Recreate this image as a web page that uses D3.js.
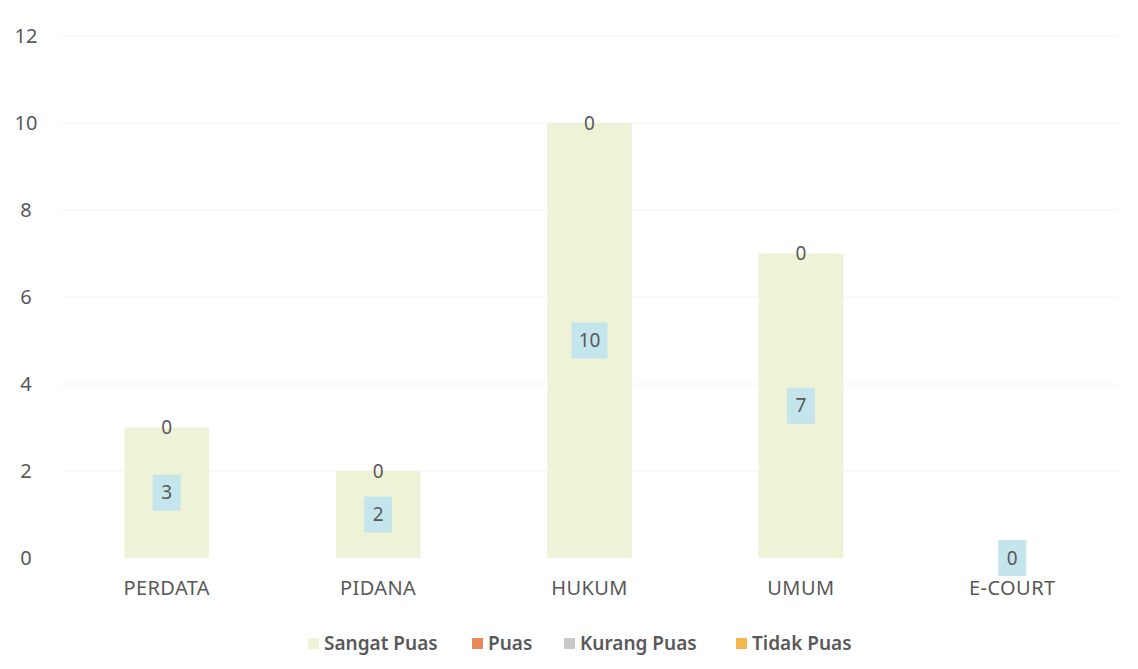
<!DOCTYPE html>
<html>
<head>
<meta charset="utf-8">
<script src="https://cdn.jsdelivr.net/npm/d3@7"></script>
<style>
  body { margin: 0; background: #fff; }
  text { font-family: "Noto Sans", "Open Sans", sans-serif; fill: #595959; }
</style>
</head>
<body>
<svg id="chart" width="1138" height="669"></svg>
<script>
var categories = ['PERDATA', 'PIDANA', 'HUKUM', 'UMUM', 'E-COURT'];
var seriesNames = ['Sangat Puas', 'Puas', 'Kurang Puas', 'Tidak Puas'];
var sangatPuas = [3, 2, 10, 7, 0];
var puas = [0, 0, 0, 0, 0];
var kurangPuas = [0, 0, 0, 0, 0];
var tidakPuas = [0, 0, 0, 0, 0];
var yTicks = [0, 2, 4, 6, 8, 10, 12];
var colors = ['#eef2d6', '#e9895a', '#c9c9c9', '#f6b84c'];

var svg = d3.select('#chart');
var margin = {left: 61, right: 20, top: 36, bottom: 111};
var width = 1138 - margin.left - margin.right;
var height = 669 - margin.top - margin.bottom;

var rows = categories.map(function (c, i) {
    return {cat: c, 'Sangat Puas': sangatPuas[i], 'Puas': puas[i],
            'Kurang Puas': kurangPuas[i], 'Tidak Puas': tidakPuas[i]};
});
var stacked = d3.stack().keys(seriesNames)(rows);

var x = d3.scaleBand().domain(categories).range([margin.left, margin.left + width]).paddingInner(0.6).paddingOuter(0.3);
var y = d3.scaleLinear().domain([0, 12]).range([margin.top + height, margin.top]);

// faint gridlines
svg.append('g').selectAll('line').data(yTicks.slice(1)).enter().append('line')
    .attr('x1', margin.left).attr('x2', margin.left + width)
    .attr('y1', d => y(d)).attr('y2', d => y(d))
    .attr('stroke', '#f4f4f4').attr('stroke-width', 1);

// y axis labels
var yAxis = svg.append('g').attr('transform', 'translate(26,0)')
    .call(d3.axisLeft(y).tickValues(yTicks).tickSize(0).tickPadding(0));
yAxis.select('.domain').remove();
yAxis.selectAll('text').attr('x', 0).style('text-anchor', 'middle').style('font-size', '20px');

// bars
stacked.forEach(function (s, si) {
    svg.append('g').selectAll('rect').data(s).enter().append('rect')
        .attr('x', d => x(d.data.cat))
        .attr('width', x.bandwidth())
        .attr('y', d => y(d[1]))
        .attr('height', d => y(d[0]) - y(d[1]))
        .attr('fill', colors[si]);
});

// x axis labels
var xAxis = svg.append('g').attr('transform', 'translate(0,' + (margin.top + height) + ')')
    .call(d3.axisBottom(x).tickSize(0).tickPadding(23));
xAxis.select('.domain').remove();
xAxis.selectAll('text').style('font-size', '20px').style('letter-spacing', '0.4px');

// label for the zero series at the top of each stack
var topSeries = stacked[stacked.length - 1];
svg.append('g').selectAll('text').data(topSeries.filter(d => d.data['Sangat Puas'] > 0)).enter().append('text')
    .attr('x', d => x(d.data.cat) + x.bandwidth() / 2)
    .attr('y', d => y(d[1]))
    .attr('dy', '0.35em')
    .attr('text-anchor', 'middle')
    .style('font-size', '19px')
    .text(d => d[1] - d[0]);

// Sangat Puas labels in boxes
var lab = svg.append('g').selectAll('g').data(stacked[0]).enter().append('g')
    .attr('transform', d => 'translate(' + (x(d.data.cat) + x.bandwidth() / 2) + ',' + y((d[0] + d[1]) / 2) + ')');
lab.append('rect').attr('x', d => (d[1] - d[0]) >= 10 ? -18 : -14).attr('y', -18)
    .attr('width', d => (d[1] - d[0]) >= 10 ? 36 : 28).attr('height', 36)
    .attr('fill', '#c4e5ec');
lab.append('text').attr('text-anchor', 'middle').attr('dy', '0.35em')
    .style('font-size', '19px').text(d => d[1] - d[0]);

// legend
var legendX = [308, 472, 564, 736];
var leg = svg.append('g').selectAll('g').data(seriesNames).enter().append('g')
    .attr('transform', (d, i) => 'translate(' + legendX[i] + ',643)');
leg.append('rect').attr('x', 0).attr('y', -5).attr('width', 11).attr('height', 11)
    .attr('fill', (d, i) => colors[i]);
leg.append('text').attr('x', 16).attr('dy', '0.35em')
    .style('font-size', '19px').style('font-weight', '600').text(d => d);
</script>
</body>
</html>
